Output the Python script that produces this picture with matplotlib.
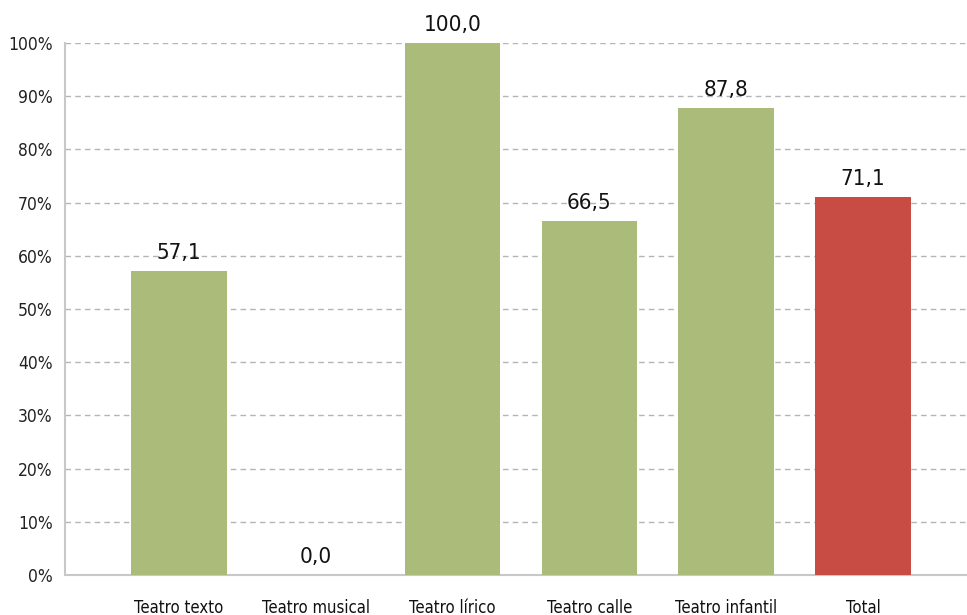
import matplotlib
matplotlib.use('Agg')
import matplotlib.pyplot as plt
import numpy as np

# Data
categories = ['Teatro texto', 'Teatro musical', 'Teatro lírico', 'Teatro calle', 'Teatro infantil', 'Total']
values = [57.1, 0.0, 100.0, 66.5, 87.8, 71.1]
bar_colors = ['#aabb7a', '#aabb7a', '#aabb7a', '#aabb7a', '#aabb7a', '#c84c44']
yticks = [0, 10, 20, 30, 40, 50, 60, 70, 80, 90, 100]

# condensed face to mimic the narrow font of the original
plt.rcParams['font.family'] = ['DejaVu Sans']
plt.rcParams['font.stretch'] = 'condensed'

W, H = 967, 615
fig = plt.figure(figsize=(W / 100, H / 100), dpi=100)
ax = fig.add_axes([65 / W, (H - 575) / H, (W - 65) / W, (575 - 43) / H])

x = np.arange(len(categories))
ax.bar(x, values, width=0.70, color=bar_colors, zorder=3)

for xi, v in zip(x, values):
    ax.text(xi, v + 1.5, f'{v:.1f}'.replace('.', ','), ha='center', va='bottom',
            fontsize=16, color='#111111', zorder=4)

ax.set_xlim(-0.833, 5.76)
ax.set_ylim(0, 100)
ax.set_yticks(yticks)
ax.set_yticklabels([f'{t}%' for t in yticks], fontsize=12.5, color='#222222')
ax.set_xticks(x)
ax.set_xticklabels(categories, fontsize=12, color='#111111')
ax.tick_params(axis='x', length=0, pad=17)
ax.tick_params(axis='y', length=0, pad=9)

ax.yaxis.grid(True, linestyle=(0, (4, 3)), color='#b5b5b5', linewidth=1, zorder=0)
for s in ['top', 'right']:
    ax.spines[s].set_visible(False)
for s in ['left', 'bottom']:
    ax.spines[s].set_color('#c8c8c8')
    ax.spines[s].set_linewidth(1.5)

fig.savefig('out.png', dpi=100)
